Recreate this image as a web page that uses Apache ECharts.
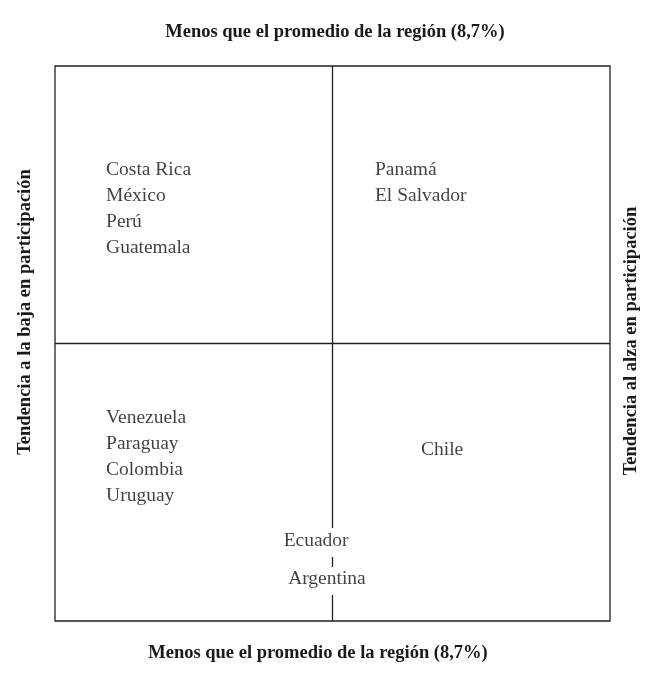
<!DOCTYPE html>
<html><head><meta charset="utf-8">
<script src="https://cdn.jsdelivr.net/npm/echarts@6/dist/echarts.min.js"></script>
<style>html,body{margin:0;padding:0;background:#fff}#c{width:659px;height:681px}</style>
</head><body><div id="c"></div>
<script>
// Quadrant contents
const topLeft = ["Costa Rica", "México", "Perú", "Guatemala"];
const topRight = ["Panamá", "El Salvador"];
const bottomLeft = ["Venezuela", "Paraguay", "Colombia", "Uruguay"];
const bottomRight = ["Chile"];
const onBorder = ["Ecuador", "Argentina"];
const topTitle = "Menos que el promedio de la región (8,7%)";
const bottomTitle = "Menos que el promedio de la región (8,7%)";
const leftTitle = "Tendencia a la baja en participación";
const rightTitle = "Tendencia al alza en participación";

// label anchor positions (data units, axes 0..2)
const tlPos = [0.184, 1.625], trPos = [1.153, 1.625], blPos = [0.184, 0.732];
const brPos = [1.395, 0.617];
const borderPos = [[0.941, 0.289], [0.980, 0.153]];
const step = 0.0935;

function listPoints(names, start) {
  return names.map((n, i) => ({ name: n, value: [start[0], start[1] - i * step] }));
}
const leftAligned = [].concat(listPoints(topLeft, tlPos), listPoints(topRight, trPos), listPoints(bottomLeft, blPos));
const centered = [].concat(
  bottomRight.map(n => ({ name: n, value: brPos })),
  onBorder.map((n, i) => ({ name: n, value: borderPos[i] }))
);

const font = "'Liberation Serif', 'DejaVu Serif', serif";
const lineStyle = { color: '#222', width: 1.3 };
function seg(a, b) {
  return { type: 'line', data: [a, b], symbol: 'none', silent: true, lineStyle, z: 1 };
}
const titleFont = "bold 18.5px " + font;
const labelStyle = { show: true, position: 'inside', verticalAlign: 'middle', formatter: p => p.name,
  fontFamily: font, fontSize: 19.5, color: '#111', textBorderWidth: 0, textBorderColor: 'transparent' };

const chart = echarts.init(document.getElementById('c'));
chart.setOption({
  animation: false,
  grid: { left: 55, right: 49, top: 66, bottom: 60, show: true, borderColor: '#222', borderWidth: 1.3 },
  xAxis: { type: 'value', min: 0, max: 2, show: false },
  yAxis: { type: 'value', min: 0, max: 2, show: false },
  graphic: [
    { type: 'text', x: 335, y: 32, style: { text: topTitle, font: titleFont, fill: '#1a1a1a', align: 'center', verticalAlign: 'middle' } },
    { type: 'text', x: 318, y: 653, style: { text: bottomTitle, font: titleFont, fill: '#1a1a1a', align: 'center', verticalAlign: 'middle' } },
    { type: 'text', x: 25, y: 312, rotation: Math.PI / 2, style: { text: leftTitle, font: titleFont, fill: '#1a1a1a', align: 'center', verticalAlign: 'middle' } },
    { type: 'text', x: 631, y: 341, rotation: Math.PI / 2, style: { text: rightTitle, font: titleFont, fill: '#1a1a1a', align: 'center', verticalAlign: 'middle' } }
  ],
  series: [
    seg([0, 1], [2, 1]),
    seg([1, 2], [1, 0.335]),
    seg([1, 0.231], [1, 0.195]),
    seg([1, 0.094], [1, 0]),
    {
      type: 'scatter', symbolSize: 0, data: leftAligned, silent: true,
      label: Object.assign({}, labelStyle, { align: 'left' })
    },
    {
      type: 'scatter', symbolSize: 0, data: centered, silent: true,
      label: Object.assign({}, labelStyle, { align: 'center' })
    }
  ]
});
</script></body></html>
